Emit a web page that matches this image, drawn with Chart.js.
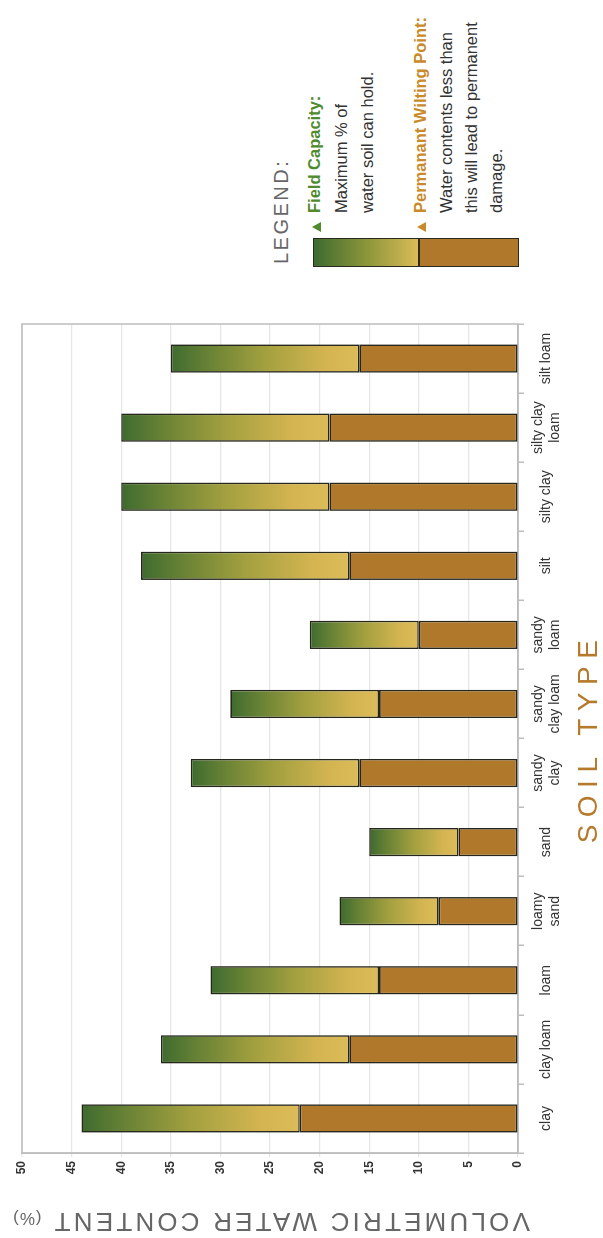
<!DOCTYPE html>
<html>
    <head>
        <meta charset="utf-8" />
        <title>Soil Water Content by Soil Type</title>
        <script src="https://cdn.jsdelivr.net/npm/chart.js@4.4.1/dist/chart.umd.min.js"></script>
        <style>
            html, body { margin: 0; padding: 0; background: #fff; width: 603px; height: 1238px; overflow: hidden; }
            /* the whole chart is laid out landscape, then turned to stand on its side */
            #page {
                position: absolute; left: 0; top: 0; width: 1238px; height: 603px;
                transform-origin: 0 0; transform: translateY(1238px) rotate(-90deg);
                font-family: "Liberation Sans", Arial, sans-serif;
            }
            #chartBox { position: absolute; left: 30px; top: 0; width: 900px; height: 603px; }
            #yTitle {
                position: absolute; left: -264px; top: 255px; width: 560px; height: 32px; line-height: 32px;
                text-align: center; transform: rotate(-90deg); color: #666;
                font-size: 26px; letter-spacing: 3.2px; white-space: nowrap;
            }
            #yTitle span { font-size: 17px; letter-spacing: 1px; }
            #xTitle {
                position: absolute; left: 340px; top: 572px; width: 320px; text-align: center;
                color: #b57a2c; font-size: 28px; letter-spacing: 7.5px; white-space: nowrap;
            }
            #legendTitle { position: absolute; left: 974px; top: 270px; color: #666; font-size: 20px; letter-spacing: 2.5px; }
            .tri { position: absolute; left: 1006px; width: 0; height: 0;
                   border-left: 5px solid transparent; border-right: 5px solid transparent; }
            .line { position: absolute; left: 1025px; font-size: 16.5px; color: #333; white-space: nowrap; }
            .fc { color: #4f8a2f; font-weight: bold; }
            .pwp { color: #c98a2b; font-weight: bold; }
            #legendBar {
                position: absolute; left: 971px; top: 313px; width: 27px; height: 204px;
                border: 1.5px solid #2a2a20;
                background: linear-gradient(to bottom, #3e6b2f 0px, #8f973b 55px, #dcbc58 105px, #b0782b 105px, #b0782b 204px);
            }
            #legendBar div { position: absolute; left: 0; top: 104px; width: 27px; height: 1.5px; background: #2a2a20; }
        </style>
        <script>
            let soilTypes = [
                ["clay"], ["clay loam"], ["loam"], ["loamy", "sand"], ["sand"], ["sandy", "clay"],
                ["sandy", "clay loam"], ["sandy", "loam"], ["silt"], ["silty clay"], ["silty clay", "loam"], ["silt loam"]
            ];
            // field capacity and permanent wilting point, % volumetric water content
            let fieldCapacity = [44, 36, 31, 18, 15, 33, 29, 21, 38, 40, 40, 35];
            let wiltingPoint = [22, 17, 14, 8, 6, 16, 14, 10, 17, 19, 19, 16];
            let valueTicks = [0, 5, 10, 15, 20, 25, 30, 35, 40, 45, 50];

            let brown = "#b0782b";
            let edge = "#26261c";

            function upperFill(context)
            {
                let chart = context.chart;
                if (!chart.chartArea) return "#9a9a3a";
                let y = chart.scales.y;
                let i = context.dataIndex;
                let g = chart.ctx.createLinearGradient(0, y.getPixelForValue(wiltingPoint[i]), 0, y.getPixelForValue(fieldCapacity[i]));
                g.addColorStop(0, "#dcbc58");
                g.addColorStop(0.18, "#d3b451");
                g.addColorStop(0.5, "#a3a03f");
                g.addColorStop(0.8, "#688235");
                g.addColorStop(1, "#3e6b2f");
                return g;
            }

            let framePlugin = {
                id: "frame",
                beforeDatasetsDraw(chart) {
                    let a = chart.chartArea;
                    let ctx = chart.ctx;
                    ctx.save();
                    ctx.strokeStyle = "#bdbdbd";
                    ctx.lineWidth = 1.5;
                    ctx.strokeRect(a.left, a.top, a.right - a.left, a.bottom - a.top);
                    ctx.restore();
                }
            };

            function drawChart()
            {
                new Chart("myChart", {
                    type: "bar",
                    data: {
                        labels: soilTypes,
                        datasets: [
                            {
                                label: "Permanent Wilting Point",
                                data: wiltingPoint.map(v => [0, v]),
                                backgroundColor: brown,
                                borderColor: edge,
                                borderWidth: 1.6,
                                borderSkipped: false
                            },
                            {
                                label: "Field Capacity",
                                data: wiltingPoint.map((v, i) => [v, fieldCapacity[i]]),
                                backgroundColor: upperFill,
                                borderColor: edge,
                                borderWidth: 1.6,
                                borderSkipped: false
                            }
                        ]
                    },
                    options: {
                        responsive: false,
                        animation: false,
                        layout: { padding: { top: 22, right: 16, left: 0, bottom: 0 } },
                        plugins: { legend: { display: false }, tooltip: { enabled: false } },
                        datasets: { bar: { categoryPercentage: 1, barPercentage: 0.41 } },
                        scales: {
                            x: {
                                stacked: true,
                                grid: { drawOnChartArea: false, color: "#bdbdbd", tickLength: 6, lineWidth: 1.5 },
                                border: { color: "#bdbdbd", width: 1.5 },
                                ticks: { color: "#333", font: { family: "Liberation Sans", size: 14 }, padding: 14, crossAlign: "center", maxRotation: 0, autoSkip: false },
                                afterFit: s => { s.height = 85; }
                            },
                            y: {
                                min: 0,
                                max: 50,
                                afterBuildTicks: s => { s.ticks = valueTicks.map(v => ({ value: v })); },
                                grid: { color: "#e6e6e6", tickLength: 4, lineWidth: 1.2 },
                                border: { color: "#bdbdbd", width: 1.5 },
                                ticks: { color: "#333", font: { family: "Liberation Sans", size: 12, weight: "bold" }, padding: 4 },
                                afterFit: s => { s.width = 55; }
                            }
                        }
                    },
                    plugins: [framePlugin]
                });
            }
        </script>
    </head>

    <body onload="drawChart()">
        <div id="page">
            <div id="chartBox"><canvas id="myChart" width="900" height="603"></canvas></div>
            <div id="yTitle">VOLUMETRIC WATER CONTENT <span>(%)</span></div>
            <div id="xTitle">SOIL TYPE</div>

            <div id="legendTitle">LEGEND:</div>
            <div id="legendBar"><div></div></div>
            <div class="tri" style="top: 312px; border-bottom: 9px solid #4f8a2f;"></div>
            <div class="tri" style="top: 417px; border-bottom: 9px solid #c98a2b;"></div>
            <div class="line fc" style="top: 305px;">Field Capacity:</div>
            <div class="line" style="top: 332px;">Maximum % of</div>
            <div class="line" style="top: 358px;">water soil can hold.</div>
            <div class="line pwp" style="top: 411px;">Permanant Wilting Point:</div>
            <div class="line" style="top: 437px;">Water contents less than</div>
            <div class="line" style="top: 462px;">this will lead to permanent</div>
            <div class="line" style="top: 487px;">damage.</div>
        </div>
    </body>
</html>
